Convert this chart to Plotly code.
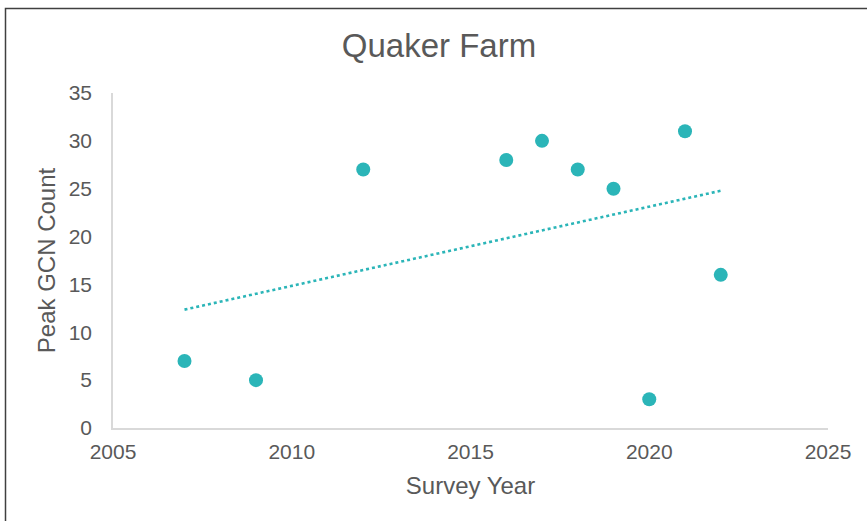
import numpy as np
import plotly.graph_objects as go

# Survey data
years = [2007, 2009, 2012, 2016, 2017, 2018, 2019, 2020, 2021, 2022]
peak_counts = [7, 5, 27, 28, 30, 27, 25, 3, 31, 16]

x_tick_vals = [2005, 2010, 2015, 2020, 2025]
y_tick_vals = [0, 5, 10, 15, 20, 25, 30, 35]

TEAL = "#2BB5B8"
GREY = "#595959"
FONT = "Liberation Sans, Arial, sans-serif"

# Linear trend line over the survey span
slope, intercept = np.polyfit(years, peak_counts, 1)
trend_x = [min(years), max(years)]
trend_y = [slope * v + intercept for v in trend_x]

fig = go.Figure()
fig.add_trace(go.Scatter(
    x=trend_x, y=trend_y, mode="lines",
    line=dict(color=TEAL, width=2.6, dash="dot"),
    hoverinfo="skip", showlegend=False,
))
fig.add_trace(go.Scatter(
    x=years, y=peak_counts, mode="markers",
    marker=dict(color=TEAL, size=14, line=dict(width=0)),
    showlegend=False,
))

W, H = 867, 521
L, R, T, B = 113, 39, 93, 93

fig.update_layout(
    width=W, height=H,
    margin=dict(l=L, r=R, t=T, b=B, pad=0),
    paper_bgcolor="white", plot_bgcolor="white",
    font=dict(family=FONT, color=GREY),
    title=dict(text="Quaker Farm", x=439 / W, xanchor="center",
               y=1 - 45 / H, yanchor="middle",
               font=dict(size=33, color=GREY, family=FONT)),
    xaxis=dict(
        range=[2005, 2025], tickvals=x_tick_vals, showgrid=False,
        zeroline=False, showline=True, linecolor="#D9D9D9", linewidth=1.5,
        ticks="", tickfont=dict(size=21, color=GREY), ticklabelstandoff=4,
        title=dict(text="Survey Year", font=dict(size=24, color=GREY), standoff=15),
        automargin=False,
    ),
    yaxis=dict(
        range=[0, 35], tickvals=y_tick_vals, showgrid=False,
        zeroline=False, showline=True, linecolor="#D9D9D9", linewidth=1.5,
        ticks="", tickfont=dict(size=21, color=GREY), ticklabelstandoff=15,
        title=dict(text="Peak GCN Count", font=dict(size=24, color=GREY), standoff=6),
        automargin=False,
    ),
)

# Dark frame around the chart area
pw, ph = W - L - R, H - T - B
fig.add_shape(
    type="rect", xref="paper", yref="paper",
    x0=(5.5 - L) / pw, x1=(W + 5 - L) / pw,
    y0=-(H + 5 - T - ph) / ph, y1=1 + (T - 8.5) / ph,
    line=dict(color="#404040", width=1.5), fillcolor="rgba(0,0,0,0)",
    layer="above",
)

fig.write_html("out.html")
